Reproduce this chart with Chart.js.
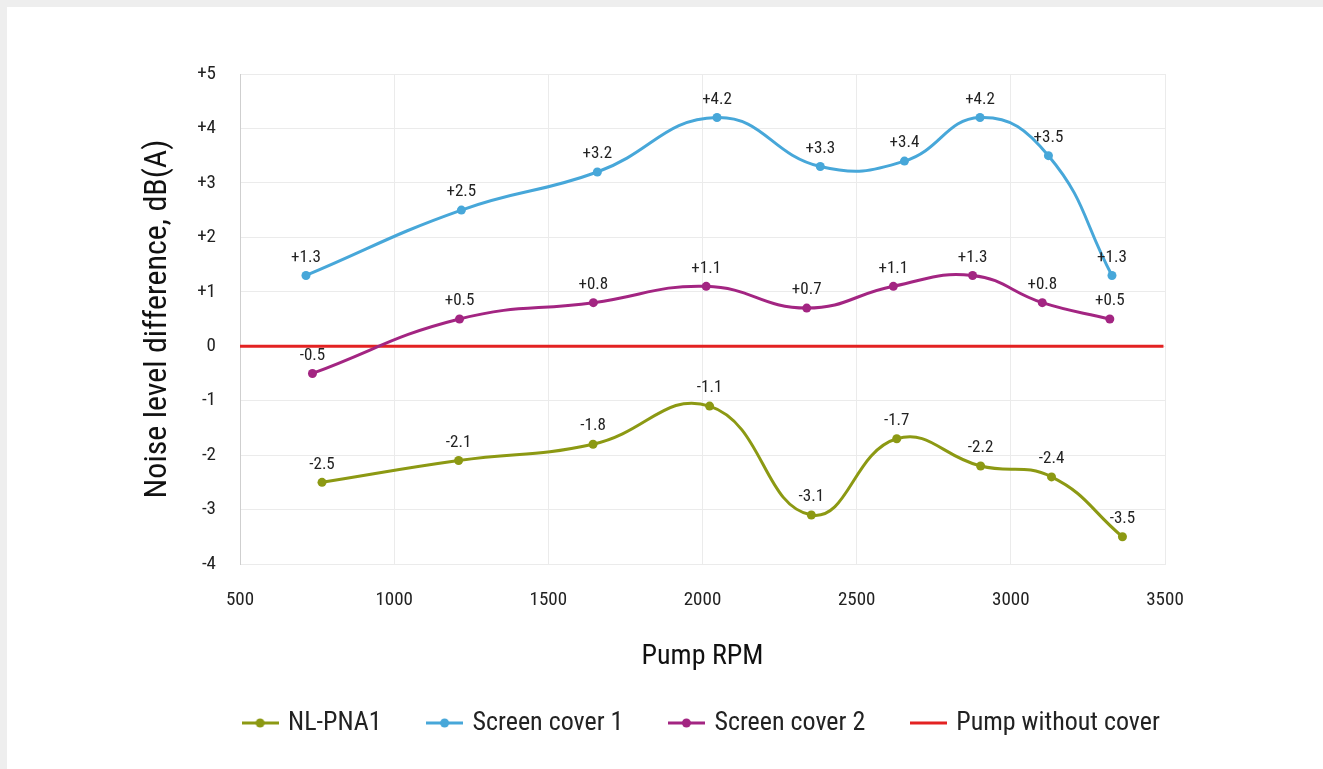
<!DOCTYPE html>
<html>
<head>
<meta charset="utf-8">
<script src="https://cdn.jsdelivr.net/npm/chart.js@4/dist/chart.umd.min.js"></script>
<style>
  html, body { margin: 0; padding: 0; background: #eeeeee; }
  #wrap { position: absolute; left: 7px; top: 7px; width: 1316px; height: 762px; background: #ffffff; }
</style>
</head>
<body>
<div id="wrap"><canvas id="c"></canvas></div>
<script>
// ---- data ----
const seriesNames = ["NL-PNA1", "Screen cover 1", "Screen cover 2", "Pump without cover"];
const nlRpm   = [766, 1209, 1645, 2023, 2353, 2630, 2902, 3132, 3362];
const nlVal   = [-2.5, -2.1, -1.8, -1.1, -3.1, -1.7, -2.2, -2.4, -3.5];
const sc1Rpm  = [714, 1218, 1659, 2047, 2382, 2655, 2900, 3122, 3328];
const sc1Val  = [1.3, 2.5, 3.2, 4.2, 3.3, 3.4, 4.2, 3.5, 1.3];
const sc2Rpm  = [735, 1212, 1646, 2012, 2338, 2619, 2876, 3102, 3321];
const sc2Val  = [-0.5, 0.5, 0.8, 1.1, 0.7, 1.1, 1.3, 0.8, 0.5];
const baseRpm = [500, 3495];
const baseVal = [0, 0];
const xTicks  = [500, 1000, 1500, 2000, 2500, 3000, 3500];
const yTicks  = [-4, -3, -2, -1, 0, 1, 2, 3, 4, 5];

const colors = { nl: "#8c9913", sc1: "#47a7d9", sc2: "#a32582", base: "#e32222" };
const FONT = "'Liberation Sans Narrow', 'Roboto Condensed', 'DejaVu Sans Condensed', sans-serif";

function pts(xs, ys) { return xs.map((x, i) => ({ x: x, y: ys[i] })); }
function fmt(v) { return v > 0 ? "+" + v.toFixed(1) : v.toFixed(1); }
function fmtTick(v) { return v > 0 ? "+" + v : String(v); }

function legendIcon(color, dot) {
  const c = document.createElement("canvas");
  c.width = 37; c.height = 12;
  const g = c.getContext("2d");
  g.strokeStyle = color; g.lineWidth = 3;
  g.beginPath(); g.moveTo(0, 6); g.lineTo(37, 6); g.stroke();
  if (dot) { g.fillStyle = color; g.beginPath(); g.arc(18.5, 6, 4.5, 0, Math.PI * 2); g.fill(); }
  return c;
}
const icons = [legendIcon(colors.nl, true), legendIcon(colors.sc1, true), legendIcon(colors.sc2, true), legendIcon(colors.base, false)];

const valueLabels = {
  id: "valueLabels",
  afterDatasetsDraw(chart) {
    const ctx = chart.ctx;
    ctx.save();
    ctx.font = "17px " + FONT;
    ctx.fillStyle = "#222";
    ctx.textAlign = "center";
    ctx.textBaseline = "middle";
    chart.data.datasets.forEach((ds, di) => {
      if (!ds.showValues) return;
      const meta = chart.getDatasetMeta(di);
      meta.data.forEach((el, i) => {
        ctx.fillText(fmt(ds.data[i].y), el.x, el.y - 18);
      });
    });
    ctx.restore();
  }
};

function lineDs(label, data, color, show) {
  return {
    label: label, data: data, borderColor: color, backgroundColor: color,
    borderWidth: 3, pointRadius: show ? 4.5 : 0, pointHoverRadius: 4.5,
    pointBackgroundColor: color, pointBorderWidth: 0,
    tension: 0.45, cubicInterpolationMode: "default", showValues: show, fill: false
  };
}

new Chart(document.getElementById("c"), {
  type: "line",
  data: {
    datasets: [
      lineDs(seriesNames[0], pts(nlRpm, nlVal), colors.nl, true),
      lineDs(seriesNames[1], pts(sc1Rpm, sc1Val), colors.sc1, true),
      lineDs(seriesNames[2], pts(sc2Rpm, sc2Val), colors.sc2, true),
      Object.assign(lineDs(seriesNames[3], pts(baseRpm, baseVal), colors.base, false), { tension: 0 })
    ]
  },
  options: {
    responsive: true,
    maintainAspectRatio: false,
    animation: false,
    layout: { padding: { left: 75, right: 0, top: 67, bottom: 23 } },
    plugins: {
      tooltip: { enabled: false },
      legend: {
        position: "bottom",
        labels: {
          font: { family: FONT, size: 26 },
          color: "#222",
          usePointStyle: true,
          pointStyleWidth: 30,
          padding: 48,
          generateLabels(chart) {
            return chart.data.datasets.map((ds, i) => ({
              text: ds.label, pointStyle: icons[i], fillStyle: ds.borderColor,
              strokeStyle: ds.borderColor, lineWidth: 0, hidden: false, datasetIndex: i, fontColor: "#222"
            }));
          }
        }
      }
    },
    scales: {
      x: {
        type: "linear", min: 500, max: 3500,
        afterBuildTicks(s) { s.ticks = xTicks.map(v => ({ value: v })); },
        afterFit(s) { s.height = 98; },
        grid: { color: "#ebebeb", drawTicks: false },
        border: { color: "#ebebeb" },
        ticks: { font: { family: FONT, size: 19 }, color: "#222", padding: 25, maxRotation: 0, callback: v => String(v) },
        title: { display: true, text: "Pump RPM", font: { family: FONT, size: 28 }, color: "#111", padding: { top: 0, bottom: -12 } }
      },
      y: {
        type: "linear", min: -4, max: 5,
        afterBuildTicks(s) { s.ticks = yTicks.map(v => ({ value: v })); },
        afterFit(s) { s.width = 158; },
        grid: { color: "#ebebeb", drawTicks: false },
        border: { color: "#cfcfcf" },
        ticks: { font: { family: FONT, size: 19 }, color: "#222", padding: 24, callback: v => fmtTick(v) },
        title: { display: true, text: "Noise level difference, dB(A)", font: { family: FONT, size: 32 }, color: "#111", padding: { top: 57, bottom: 0 } }
      },
      yRight: {
        type: "linear", position: "right", min: 0, max: 1,
        afterFit(s) { s.width = 158; },
        grid: { display: false, drawTicks: false },
        border: { display: false },
        ticks: { display: false }
      }
    }
  },
  plugins: [valueLabels]
});
</script>
</body>
</html>
